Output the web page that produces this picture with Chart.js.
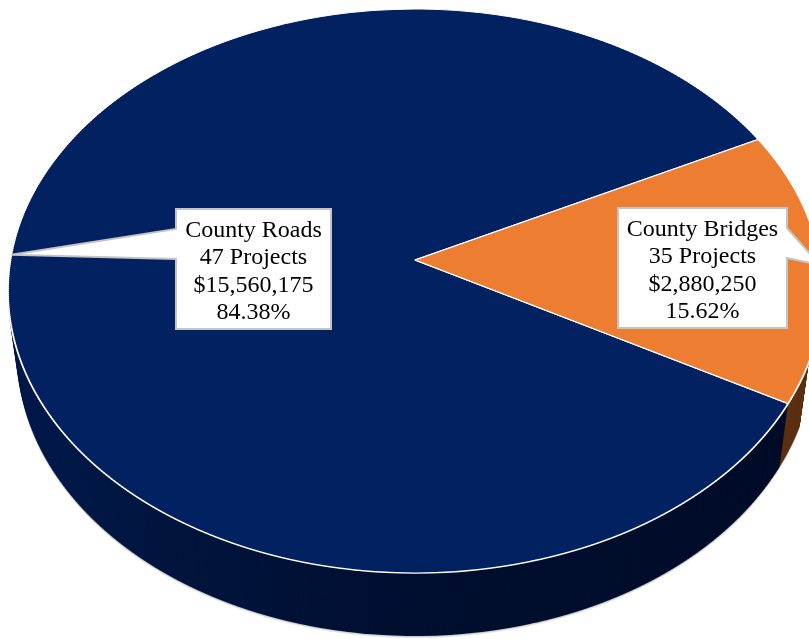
<!DOCTYPE html>
<html><head><meta charset="utf-8">
<script src="https://cdn.jsdelivr.net/npm/chart.js@4.4.1/dist/chart.umd.min.js"></script>
<style>html,body{margin:0;padding:0;background:#fff;overflow:hidden}canvas{display:block}</style>
</head><body>
<canvas id="c" width="809" height="639"></canvas>
<script>
// ---- data ----
const categories = ['County Roads', 'County Bridges'];
const projectCounts = [47, 35];
const amounts = [15560175, 2880250];
const topColors = ['#012160', '#ED7D31'];
const sideColors = ['#000f30', '#5e3214'];

// ---- view / projection of the tilted disc ----
const VIEW = { cx: 415, cy: 260, B: 404.5, P: 278.6, Q: -0.110, depth: 63, shrink: 0.00036 };
const STRIP = 2;
function tOfY(Y) { const d = Y - VIEW.cy; return d / (VIEW.P - VIEW.Q * d); }
function proj(s, t) { const w = 1 + VIEW.Q * t; return [VIEW.cx + VIEW.B * s / w, VIEW.cy + VIEW.P * t / w]; }

function projectDraw(ctx, els, W, styleFn) {
  const ccx = els[0].x, ccy = els[0].y, R = els[0].outerRadius;
  const y0 = Math.floor(VIEW.cy - VIEW.P / (1 - VIEW.Q)) - 2;
  const y1 = Math.ceil(VIEW.cy + VIEW.P / (1 + VIEW.Q)) + 2;
  for (let Y = y0; Y < y1; Y += STRIP) {
    let tc = tOfY(Y + STRIP / 2); tc = Math.max(-1, Math.min(1, tc));
    const w = 1 + VIEW.Q * tc;
    const a = VIEW.B / (R * w);
    const d = VIEW.P / (w * w * R);
    const Yc = VIEW.cy + VIEW.P * tc / w;
    const e = VIEW.cx - a * ccx, f = Yc - d * (ccy + tc * R);
    ctx.save();
    ctx.setTransform(1, 0, 0, 1, 0, 0);
    ctx.beginPath(); ctx.rect(0, Y, W, STRIP); ctx.clip();
    ctx.setTransform(a, 0, 0, d, e, f);
    els.forEach((el, i) => {
      const over = styleFn ? styleFn(ctx, i, a, e) : null;
      if (over) {
        const saved = el.options;
        el.options = Object.assign({}, saved, over);
        el.draw(ctx);
        el.options = saved;
      } else el.draw(ctx);
    });
    ctx.restore();
  }
}

const pie3d = {
  id: 'pie3d',
  beforeDatasetsDraw(chart) {
    const ctx = chart.ctx;
    const els = chart.getDatasetMeta(0).data;
    const W = chart.width, H = chart.height;
    const mk = () => { const c = document.createElement('canvas'); c.width = W; c.height = H; return c; };
    const side = mk(), gray = mk();
    projectDraw(side.getContext('2d'), els, W, (c, i, a, e) => {
      if (i === 0) {
        const g = c.createLinearGradient((0 - e) / a, 0, (W - e) / a, 0);
        g.addColorStop(0, '#031b4d');
        g.addColorStop(0.2, '#01163f');
        g.addColorStop(0.5, '#000f30');
        g.addColorStop(1, '#000d29');
        return { backgroundColor: g, borderWidth: 0 };
      }
      return { backgroundColor: sideColors[i], borderWidth: 0 };
    });
    projectDraw(gray.getContext('2d'), els, W, () => ({ backgroundColor: '#cfcfcf', borderWidth: 0 }));
    ctx.save();
    ctx.setTransform(1, 0, 0, 1, 0, 0);
    const D = VIEW.depth;
    let f = 1 - VIEW.shrink * (D + 1);
    ctx.drawImage(gray, VIEW.cx - VIEW.cx * f, D + 1.5, W * f, H);
    for (let o = D; o >= 1; o--) {
      f = 1 - VIEW.shrink * o;
      ctx.drawImage(side, VIEW.cx - VIEW.cx * f, o, W * f, H);
    }
    ctx.restore();
    projectDraw(ctx, els, W, null);
    return false;
  },
  afterDraw(chart) {
    const ctx = chart.ctx;
    const els = chart.getDatasetMeta(0).data;
    const total = amounts.reduce((s, v) => s + v, 0);
    const FRAC = [0.40, 0.71], DY = [11, 4];
    ctx.save();
    ctx.setTransform(1, 0, 0, 1, 0, 0);
    ctx.font = '24px "Liberation Serif", "Times New Roman", serif';
    els.forEach((el, i) => {
      const mid = (el.startAngle + el.endAngle) / 2;
      const tip = proj(Math.cos(mid), Math.sin(mid));
      const c = proj(FRAC[i] * Math.cos(mid), FRAC[i] * Math.sin(mid));
      const lines = [categories[i], projectCounts[i] + ' Projects',
        '$' + amounts[i].toLocaleString('en-US'), (amounts[i] / total * 100).toFixed(2) + '%'];
      const tw = Math.max(...lines.map(l => ctx.measureText(l).width));
      const bw = Math.round(tw + 18), bh = 120;
      const L = Math.round(c[0] - bw / 2), T = Math.round(c[1] + DY[i] - bh / 2);
      const Rt = L + bw, Bm = T + bh;
      ctx.beginPath();
      if (tip[0] < L) {
        ctx.moveTo(L, T); ctx.lineTo(Rt, T); ctx.lineTo(Rt, Bm); ctx.lineTo(L, Bm);
        ctx.lineTo(L, T + 50); ctx.lineTo(tip[0], tip[1]); ctx.lineTo(L, T + 20);
      } else {
        ctx.moveTo(L, T); ctx.lineTo(Rt, T); ctx.lineTo(Rt, T + 20); ctx.lineTo(tip[0], tip[1]);
        ctx.lineTo(Rt, T + 50); ctx.lineTo(Rt, Bm); ctx.lineTo(L, Bm);
      }
      ctx.closePath();
      ctx.fillStyle = '#ffffff'; ctx.fill();
      ctx.lineWidth = 2; ctx.strokeStyle = '#c4c4c4'; ctx.lineJoin = 'miter'; ctx.stroke();
      ctx.fillStyle = '#000000'; ctx.textAlign = 'center'; ctx.textBaseline = 'alphabetic';
      lines.forEach((l, k) => ctx.fillText(l, (L + Rt) / 2, T + 27.5 + k * 27.5));
    });
    ctx.restore();
  }
};

new Chart(document.getElementById('c'), {
  type: 'pie',
  data: {
    labels: categories,
    datasets: [{ data: amounts, backgroundColor: topColors, borderColor: '#ffffff', borderWidth: 1.3 }]
  },
  options: {
    responsive: false,
    animation: false,
    events: [],
    rotation: 119.2,
    layout: { padding: 0 },
    plugins: { legend: { display: false }, tooltip: { enabled: false } }
  },
  plugins: [pie3d]
});
</script>
</body></html>
